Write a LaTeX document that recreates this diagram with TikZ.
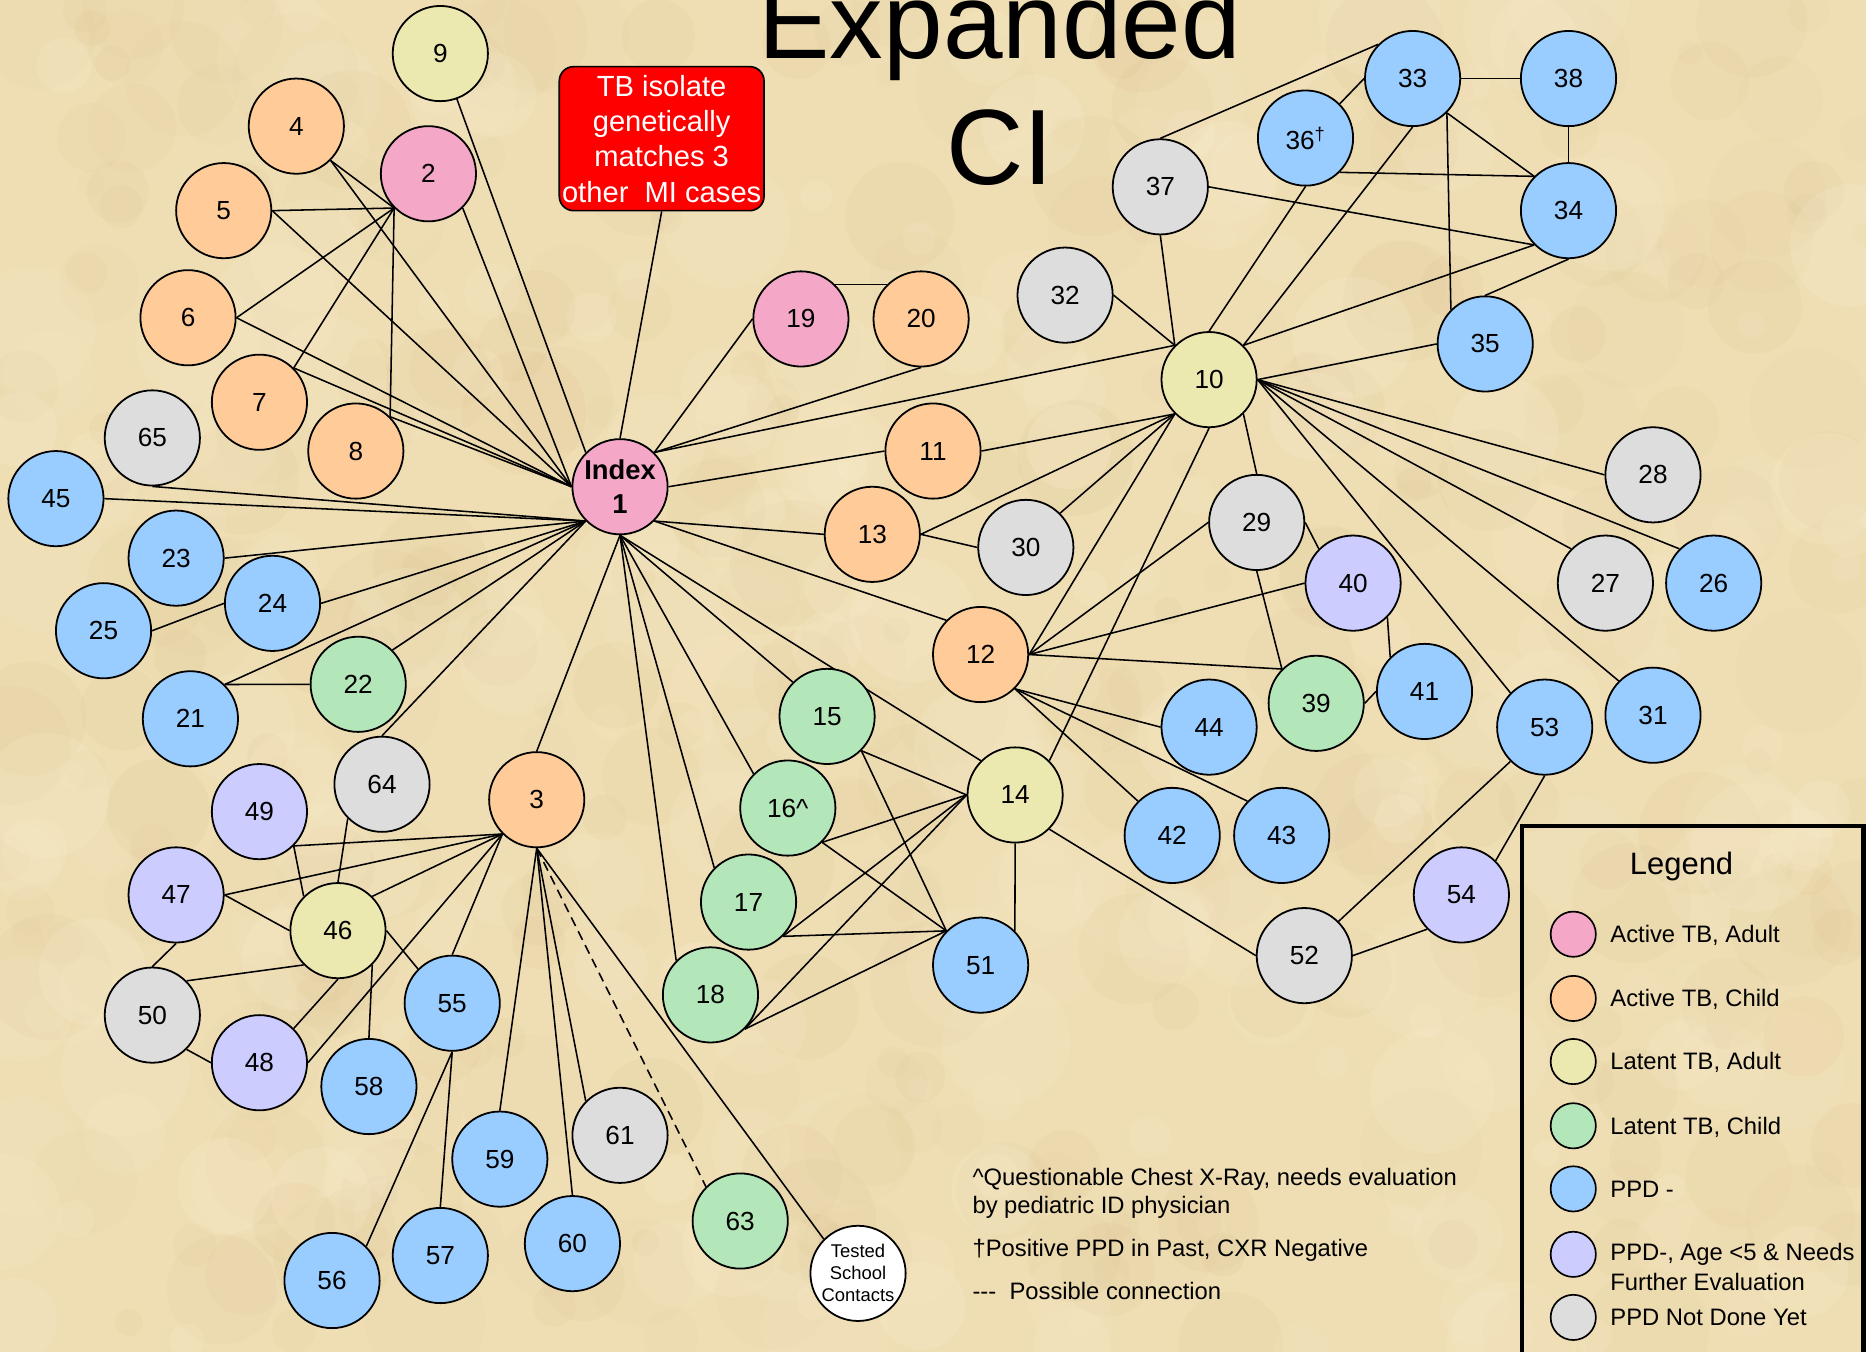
\documentclass[tikz,border=0pt]{standalone}
\usepackage{fontspec}
\setmainfont{Liberation Sans}
\pgfdeclarelayer{bg}
\pgfdeclarelayer{edges}
\pgfsetlayers{bg,edges,main}
\definecolor{cparch}{HTML}{EFDEB4}
\definecolor{cdark}{HTML}{CDAE78}
\definecolor{clight}{HTML}{FCF2D6}
\definecolor{cpink}{HTML}{F4A7C7}
\definecolor{corange}{HTML}{FFCC99}
\definecolor{cyellow}{HTML}{EBE8B0}
\definecolor{cgreen}{HTML}{B3E6B8}
\definecolor{cblue}{HTML}{99CCFF}
\definecolor{cviolet}{HTML}{CCCCFF}
\definecolor{cgray}{HTML}{DDDDDD}
\definecolor{cred}{HTML}{FF0000}
\tikzset{
 nd/.style={circle, draw=black, line width=1.5pt, minimum size=80pt, inner sep=0pt, font=\fontsize{22}{24}\selectfont},
 actA/.style={nd, fill=cpink},
 actC/.style={nd, fill=corange},
 latA/.style={nd, fill=cyellow},
 latC/.style={nd, fill=cgreen},
 neg/.style={nd, fill=cblue},
 negY/.style={nd, fill=cviolet},
 notD/.style={nd, fill=cgray},
 ed/.style={line width=1.3pt, draw=black},
 lgc/.style={circle, draw=black, line width=1.4pt, minimum size=38pt, inner sep=0pt},
 lgt/.style={anchor=base west, inner sep=0pt, font=\fontsize{20}{24}\selectfont},
 note/.style={anchor=base west, inner sep=0pt, font=\fontsize{20}{24}\selectfont},
}
\begin{document}
\begin{tikzpicture}[x=1pt,y=-1pt]
\useasboundingbox (0,0) rectangle (1568,1136);
\begin{pgfonlayer}{bg}
\fill[cparch] (0,0) rectangle (1568,1136);
\pgfmathsetseed{4242}
\foreach \i in {1,...,320}{
  \pgfmathsetmacro\bx{rnd*1568}
  \pgfmathsetmacro\by{rnd*1136}
  \pgfmathsetmacro\br{10+rnd*45}
  \pgfmathsetmacro\bo{0.03+rnd*0.06}
  \fill[cdark, opacity=\bo] (\bx,\by) circle (\br pt);
}
\foreach \i in {1,...,260}{
  \pgfmathsetmacro\bx{rnd*1568}
  \pgfmathsetmacro\by{rnd*1136}
  \pgfmathsetmacro\br{10+rnd*45}
  \pgfmathsetmacro\bo{0.06+rnd*0.12}
  \fill[clight, opacity=\bo] (\bx,\by) circle (\br pt);
}
\end{pgfonlayer}

% title
\node[anchor=base, inner sep=0pt, font=\fontsize{90}{100}\selectfont] (title1) at (840,49) {Expanded};
\node[anchor=base, inner sep=0pt, font=\fontsize{90}{100}\selectfont] (title2) at (840,155) {CI};

% red box
\node[draw=black, fill=cred, rounded corners=12pt, line width=1.4pt, minimum width=172pt, minimum height=121pt,
      text=white, align=center, inner sep=0pt, font=\fontsize{24.5}{29.7}\selectfont] (tb) at (556,116.5)
      {TB isolate\\genetically\\matches 3\\other\ \ MI cases};

% nodes
\node[actA, font=\bfseries\fontsize{23}{29}\selectfont, align=center] (n1) at (521,409) {Index\\1};
\node[actA] (n2) at (360,146) {2};
\node[actC] (n3) at (451,672) {3};
\node[actC] (n4) at (249,106) {4};
\node[actC] (n5) at (188,177) {5};
\node[actC] (n6) at (158,267) {6};
\node[actC] (n7) at (218,338) {7};
\node[actC] (n8) at (299,379) {8};
\node[latA] (n9) at (370,45) {9};
\node[latA] (n10) at (1016,319) {10};
\node[actC] (n11) at (784,379) {11};
\node[actC] (n12) at (824,550) {12};
\node[actC] (n13) at (733,449) {13};
\node[latA] (n14) at (853,668) {14};
\node[latC] (n15) at (695,602) {15};
\node[latC] (n16) at (662,679) {16\textasciicircum};
\node[latC] (n17) at (629,758) {17};
\node[latC] (n18) at (597,836) {18};
\node[actA] (n19) at (673,268) {19};
\node[actC] (n20) at (774,268) {20};
\node[neg] (n21) at (160,604) {21};
\node[latC] (n22) at (301,575) {22};
\node[neg] (n23) at (148,469) {23};
\node[neg] (n24) at (229,507) {24};
\node[neg] (n25) at (87,530) {25};
\node[neg] (n26) at (1440,490) {26};
\node[notD] (n27) at (1349,490) {27};
\node[notD] (n28) at (1389,399) {28};
\node[notD] (n29) at (1056,439) {29};
\node[notD] (n30) at (862,460) {30};
\node[neg] (n31) at (1389,601) {31};
\node[notD] (n32) at (895,248) {32};
\node[neg] (n33) at (1187,66) {33};
\node[neg] (n34) at (1318,177) {34};
\node[neg] (n35) at (1248,289) {35};
\node[neg] (n36) at (1097,116) {36\textsuperscript{†}};
\node[notD] (n37) at (975,157) {37};
\node[neg] (n38) at (1318,66) {38};
\node[latC] (n39) at (1106,591) {39};
\node[negY] (n40) at (1137,490) {40};
\node[neg] (n41) at (1197,581) {41};
\node[neg] (n42) at (985,702) {42};
\node[neg] (n43) at (1077,702) {43};
\node[neg] (n44) at (1016,611) {44};
\node[neg] (n45) at (47,419) {45};
\node[latA] (n46) at (284,782) {46};
\node[negY] (n47) at (148,752) {47};
\node[negY] (n48) at (218,893) {48};
\node[negY] (n49) at (218,682) {49};
\node[notD] (n50) at (128,853) {50};
\node[neg] (n51) at (824,811) {51};
\node[notD] (n52) at (1096,803) {52};
\node[neg] (n53) at (1298,611) {53};
\node[negY] (n54) at (1228,752) {54};
\node[neg] (n55) at (380,843) {55};
\node[neg] (n56) at (279,1076) {56};
\node[neg] (n57) at (370,1055) {57};
\node[neg] (n58) at (310,913) {58};
\node[neg] (n59) at (420,974) {59};
\node[neg] (n60) at (481,1045) {60};
\node[notD] (n61) at (521,954) {61};
\node[latC] (n63) at (622,1026) {63};
\node[notD] (n64) at (321,659) {64};
\node[notD] (n65) at (128,368) {65};
\node[nd, fill=white, font=\fontsize{15.5}{18.5}\selectfont, align=center] (tsc) at (721,1070) {Tested\\School\\Contacts};

% edges
\begin{pgfonlayer}{edges}
% index
\draw[ed] (tb.south) -- (n1.north);
\draw[ed] (n9) -- (n1.north west);
\draw[ed] (n2.south east) -- (n1.west);
\draw[ed] (n4.south east) -- (n1.west);
\draw[ed] (n5.east) -- (n1.west);
\draw[ed] (n6.east) -- (n1.west);
\draw[ed] (n7.north east) -- (n1.west);
\draw[ed] (n8.north east) -- (n1.west);
\draw[ed] (n65.south) -- (n1.south west);
\draw[ed] (n45.east) -- (n1.south west);
\draw[ed] (n23.east) -- (n1.south west);
\draw[ed] (n24.east) -- (n1.south west);
\draw[ed] (n21.north east) -- (n1.south west);
\draw[ed] (n22.north east) -- (n1.south west);
\draw[ed] (n64.north) -- (n1.south west);
\draw[ed] (n19.west) -- (n1.north east);
\draw[ed] (n20.south) -- (n1.north east);
\draw[ed] (n10.north west) -- (n1.north east);
\draw[ed] (n11.west) -- (n1.east);
\draw[ed] (n13.west) -- (n1.south east);
\draw[ed] (n12.north west) -- (n1.south east);
\draw[ed] (n3.north) -- (n1.south);
\draw[ed] (n18.north west) -- (n1.south);
\draw[ed] (n17.north west) -- (n1.south);
\draw[ed] (n16.north west) -- (n1.south);
\draw[ed] (n15.north west) -- (n1.south);
\draw[ed] (n14.north west) -- (n1.south);
% node 2
\draw[ed] (n2.south west) -- (n4.south east);
\draw[ed] (n2.south west) -- (n5.east);
\draw[ed] (n2.south west) -- (n6.east);
\draw[ed] (n2.south west) -- (n7.north east);
\draw[ed] (n2.south west) -- (n8.north east);
% left
\draw[ed] (n25.east) -- (n24.west);
\draw[ed] (n21.north east) -- (n22.west);
% node 3 cluster
\draw[ed] (n3.south west) -- (n49.south east);
\draw[ed] (n3.south west) -- (n47.east);
\draw[ed] (n3.south west) -- (n46.north east);
\draw[ed] (n3.south west) -- (n48.east);
\draw[ed] (n3.south west) -- (n55.north);
\draw[ed] (n49.south east) -- (n46.north west);
\draw[ed] (n64.south west) -- (n46.north);
\draw[ed] (n47.east) -- (n46.west);
\draw[ed] (n47.south) -- (n50.north);
\draw[ed] (n50.north east) -- (n46.south west);
\draw[ed] (n50.south east) -- (n48.west);
\draw[ed] (n48.north east) -- (n46.south);
\draw[ed] (n46.east) -- (n55.north west);
\draw[ed] (n46.south east) -- (n58.north);
\draw[ed] (n55.south) -- (n56.north east);
\draw[ed] (n55.south) -- (n57.north);
\draw[ed] (n3.south) -- (n59.north);
\draw[ed] (n3.south) -- (n60.north);
\draw[ed] (n3.south) -- (n61.north west);
\draw[ed, dash pattern=on 8pt off 5pt] (n3.south) -- (n63.north west);
\draw[ed] (n3.south) -- (tsc.north west);
% middle
\draw[ed] (n15.south east) -- (n14.west);
\draw[ed] (n15.south east) -- (n51.north west);
\draw[ed] (n16.south east) -- (n14.west);
\draw[ed] (n16.south east) -- (n51.north west);
\draw[ed] (n17.south east) -- (n14.west);
\draw[ed] (n17.south east) -- (n51.north west);
\draw[ed] (n18.south east) -- (n14.west);
\draw[ed] (n18.south east) -- (n51.north west);
\draw[ed] (n14.south) -- (n51.north east);
\draw[ed] (n14.north east) -- (n10.south);
\draw[ed] (n14.south east) -- (n52.west);
\draw[ed] (n19.north east) -- (n20.north west);
% node 10 / 12
\draw[ed] (n11.east) -- (n10.south west);
\draw[ed] (n13.east) -- (n10.south west);
\draw[ed] (n13.east) -- (n30.west);
\draw[ed] (n30.north east) -- (n10.south west);
\draw[ed] (n12.east) -- (n10.south west);
\draw[ed] (n12.east) -- (n29.west);
\draw[ed] (n12.east) -- (n40.west);
\draw[ed] (n12.east) -- (n39.north west);
\draw[ed] (n12.south east) -- (n44.west);
\draw[ed] (n12.south east) -- (n42.north west);
\draw[ed] (n12.south east) -- (n43.north west);
\draw[ed] (n29.east) -- (n40.north west);
\draw[ed] (n29.south) -- (n39.north west);
\draw[ed] (n40.south east) -- (n41.north west);
\draw[ed] (n39.east) -- (n41.west);
\draw[ed] (n10.south east) -- (n29.north);
\draw[ed] (n10.east) -- (n35.west);
\draw[ed] (n10.east) -- (n28.west);
\draw[ed] (n10.east) -- (n27.north west);
\draw[ed] (n10.east) -- (n26.north west);
\draw[ed] (n10.east) -- (n31.north west);
\draw[ed] (n10.east) -- (n53.north west);
\draw[ed] (n10.north east) -- (n34.south west);
\draw[ed] (n10.north east) -- (n33.south);
\draw[ed] (n10.north) -- (n36.south);
\draw[ed] (n10.north west) -- (n37.south);
\draw[ed] (n10.north west) -- (n32.east);
% top right
\draw[ed] (n37.north) -- (n33.north west);
\draw[ed] (n37.east) -- (n34.south west);
\draw[ed] (n36.north east) -- (n33.west);
\draw[ed] (n36.south east) -- (n34.north west);
\draw[ed] (n33.east) -- (n38.west);
\draw[ed] (n33.south east) -- (n34.north west);
\draw[ed] (n33.south east) -- (n35.north west);
\draw[ed] (n38.south) -- (n34.north);
\draw[ed] (n34.south) -- (n35.north);
% bottom right
\draw[ed] (n53.south west) -- (n52.north east);
\draw[ed] (n53.south) -- (n54.north east);
\draw[ed] (n54.south west) -- (n52.east);
\end{pgfonlayer}

% notes
\node[note] (note1) at (817,996) {\textasciicircum Questionable Chest X-Ray, needs evaluation};
\node[note] (note2) at (817,1020) {by pediatric ID physician};
\node[note] (note3) at (817,1056) {†Positive PPD in Past, CXR Negative};
\node[note] (note4) at (817,1092) {-{}-{}-\ \ Possible connection};

% legend
\draw[line width=4pt] (1279,694) rectangle (1566,1170);
\node[inner sep=0pt, font=\fontsize{26}{30}\selectfont] (legt) at (1413,728) {Legend};
\node[lgc, fill=cpink] (lg1) at (1322,785) {};
\node[lgc, fill=corange] (lg2) at (1322,839) {};
\node[lgc, fill=cyellow] (lg3) at (1322,892) {};
\node[lgc, fill=cgreen] (lg4) at (1322,946) {};
\node[lgc, fill=cblue] (lg5) at (1322,999) {};
\node[lgc, fill=cviolet] (lg6) at (1322,1054) {};
\node[lgc, fill=cgray] (lg7) at (1322,1107) {};
\node[lgt] (lt1) at (1353,792) {Active TB, Adult};
\node[lgt] (lt2) at (1353,846) {Active TB, Child};
\node[lgt] (lt3) at (1353,899) {Latent TB, Adult};
\node[lgt] (lt4) at (1353,953) {Latent TB, Child};
\node[lgt] (lt5) at (1353,1006) {PPD -};
\node[lgt] (lt6a) at (1353,1059) {PPD-, Age <5 \& Needs};
\node[lgt] (lt6b) at (1353,1084) {Further Evaluation};
\node[lgt] (lt7) at (1353,1114) {PPD Not Done Yet};
\end{tikzpicture}
\end{document}
